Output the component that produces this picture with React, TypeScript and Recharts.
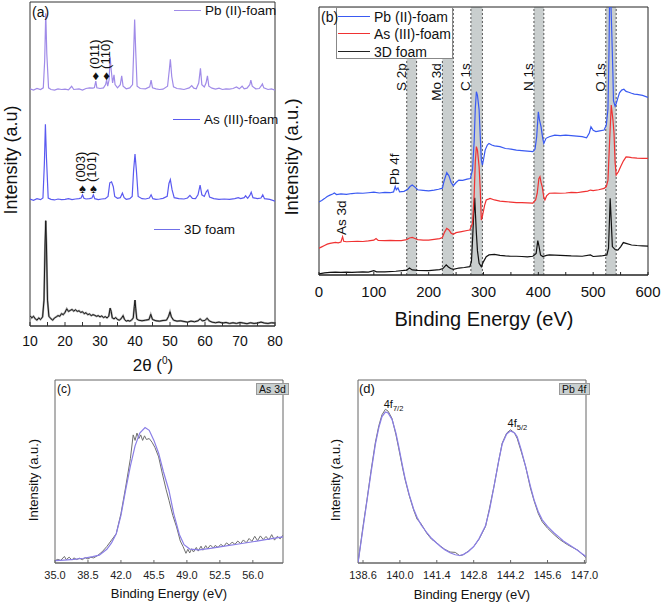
import { LineChart, Line, XAxis, YAxis, ReferenceArea, ReferenceLine, ReferenceDot } from 'recharts'

const FONT = '"Liberation Sans", Arial, sans-serif'

// (a) XRD patterns, stacked (arbitrary units)
const xrdPbFoam = [
  [10, 73.2], [11, 72.8], [12, 73.3], [13, 73.0], [13.8, 73.5], [14.2, 82], [14.5, 96.5], [14.8, 84], [15.3, 73.5],
  [16, 73], [17, 72.8], [18, 73.2], [19, 73], [20, 73.1], [21, 72.9], [21.9, 74], [22.5, 73], [24, 73.2], [25, 72.8],
  [26, 73.3], [27, 73.5], [28, 73.4], [28.4, 73.6], [28.8, 75.6], [29.1, 73.5], [30, 73.3], [31, 73.5], [31.6, 74.5],
  [31.9, 76], [32.2, 74], [32.6, 76], [32.9, 83.1], [33.2, 79], [33.6, 75], [34, 77.5], [34.3, 74.5], [35, 73.5],
  [35.8, 74.5], [36.2, 77.2], [36.6, 74], [37.5, 73.2], [38.5, 73.5], [39.3, 74.5], [39.6, 84], [39.9, 94.6], [40.2, 85],
  [40.6, 74], [41.5, 73.3], [43, 73.2], [44.2, 73.8], [44.6, 75.9], [45, 73.5], [46, 73.2], [47, 73], [48, 73.1],
  [49.3, 74], [49.8, 79], [50.1, 82.3], [50.5, 77], [51, 73.8], [52, 73.3], [53, 73.2], [54, 73], [55.5, 73.5],
  [56.2, 74.2], [56.8, 73.4], [57.5, 73.2], [58.2, 75], [58.7, 79.5], [59.1, 74.5], [59.8, 73.8], [60.3, 75], [60.7, 77.2],
  [61.1, 74], [62, 73.4], [63, 73.1], [64, 73.4], [65, 73], [66, 73.2], [67, 73.1], [68, 73.3], [69, 73.8], [69.8, 73.2],
  [70.6, 74], [71.2, 73.2], [72, 73.4], [72.8, 74.5], [73.1, 75.9], [73.5, 74], [74.5, 73.2], [75.5, 73.3], [76, 74],
  [76.4, 74.7], [76.8, 73.5], [78, 73], [79, 73.2], [80, 72.8],
]
const xrdAsFoam = [
  [10, 39.2], [11, 38.8], [12, 39.3], [13, 39.0], [13.7, 39.5], [14.1, 50], [14.4, 62.3], [14.7, 52], [15.2, 39.5],
  [16, 39.1], [17, 38.9], [18, 39.2], [19, 39], [20, 39.1], [21, 39.3], [22, 39], [23, 39.2], [24, 39.3], [24.6, 39.5],
  [25, 40.5], [25.4, 39.4], [26, 39.2], [27, 39.3], [27.7, 39.5], [28.1, 40.5], [28.5, 39.3], [29.5, 39], [30.5, 39.2],
  [31.5, 39.3], [32.3, 40], [32.8, 44.2], [33.3, 44.5], [33.8, 43], [34.2, 40], [35, 39.4], [35.8, 39.6], [36.4, 41],
  [36.9, 39.6], [37.5, 39.1], [38.5, 39.3], [39.2, 40], [39.6, 48], [40, 53.1], [40.4, 48], [40.9, 40], [42, 39.3],
  [43, 39.2], [44.1, 39.5], [44.6, 40.5], [45.1, 39.3], [46, 39.1], [47, 39.2], [48, 39.4], [49.2, 40], [49.7, 44],
  [50.1, 45.2], [50.6, 42], [51.2, 39.6], [52.5, 39.3], [54, 39.2], [55, 39.5], [55.7, 40.3], [56.4, 39.4], [57.3, 39.3],
  [58, 40.5], [58.6, 43.5], [59.1, 40.5], [59.8, 40], [60.4, 41.5], [60.8, 42], [61.3, 39.8], [62.5, 39.3], [64, 39.1],
  [65.5, 39.2], [67, 39.1], [68.5, 39.3], [69.5, 39.6], [70.2, 39.3], [71.2, 39.6], [71.6, 40.2], [72.2, 39.4],
  [72.8, 40.3], [73.2, 41.3], [73.7, 39.6], [75, 39.3], [76, 39.5], [76.5, 40.5], [77, 39.3], [78.5, 39.1], [80, 38.5],
]
const xrd3dFoam = [
  [10, 3.2], [10.5, 2.5], [11, 3], [11.5, 2.2], [12, 1.8], [12.5, 2.5], [13, 2], [13.6, 2.8], [14, 8], [14.3, 25],
  [14.5, 32.5], [14.7, 25], [15, 8], [15.4, 3], [16, 2.2], [16.5, 1.8], [17, 2.5], [17.5, 2.8], [18, 3.2], [18.5, 3],
  [19, 3.8], [19.5, 3.5], [20, 4.2], [20.5, 5.3], [21, 4.5], [21.5, 4.8], [22, 5.1], [22.5, 4.6], [23, 5], [23.5, 4.5],
  [24, 4.7], [24.5, 4.2], [25, 4.4], [25.5, 3.8], [26, 4.1], [26.5, 3.5], [27, 3.7], [27.5, 3.2], [28, 3.5], [28.5, 3.3],
  [29, 3], [29.5, 3.2], [30, 2.8], [30.5, 3.1], [31, 2.6], [31.5, 2.9], [32, 2.5], [32.5, 3], [32.9, 5.5], [33.2, 4.5],
  [33.5, 2.5], [34, 2.2], [34.5, 2.6], [35, 2], [35.5, 1.8], [36, 2.2], [36.6, 3.2], [37, 2], [37.5, 1.5], [38, 1.7],
  [38.5, 1.5], [39, 1.8], [39.5, 2.5], [39.8, 6], [40, 8], [40.2, 5.5], [40.5, 2.2], [41, 1.8], [42, 1.6], [43, 1.8],
  [44, 2], [44.5, 3.6], [45, 2], [46, 1.6], [47, 1.5], [48, 1.7], [49, 1.8], [49.6, 3], [50, 4.4], [50.4, 2.8], [51, 1.8],
  [52, 1.5], [53, 1.6], [54, 1.4], [55, 1.2], [56, 1.5], [57, 1.3], [58, 1.6], [58.6, 2.2], [59.2, 1.6], [60, 1.7],
  [60.6, 2.4], [61.2, 1.6], [62, 1.2], [63, 1], [64, 1.2], [65, 0.9], [66, 1.1], [67, 0.8], [68, 1], [69, 0.8], [70, 1.1],
  [71, 0.9], [72, 0.7], [73, 1], [74, 0.8], [75, 0.9], [76, 1.2], [77, 0.9], [78, 0.8], [79, 1], [80, 0.9],
]
const xrdTicks = [10, 15, 20, 25, 30, 35, 40, 45, 50, 55, 60, 65, 70, 75, 80]
const xrdPbMarks = [
  { label: '(011)', theta: 28.8, level: 77.2 },
  { label: '(110)', theta: 31.9, level: 77.2 },
]
const xrdAsMarks = [
  { label: '(003)', theta: 25, level: 42.3 },
  { label: '(101)', theta: 28.1, level: 42.3 },
]

// (b) XPS survey spectra, stacked (arbitrary units)
const surveyPb = [
  [0, 27.3], [5, 27.8], [10, 28.5], [15, 29.3], [20, 29.8], [25, 30.2], [28, 30.6], [32, 30.0], [40, 30.3], [50, 30.1],
  [60, 30.4], [70, 30.6], [80, 30.5], [90, 30.7], [100, 30.9], [110, 30.6], [120, 30.8], [130, 30.7], [136, 31], [139, 33],
  [141, 31.8], [144, 32.5], [147, 31], [155, 31.2], [162, 32], [166, 33], [170, 33.6], [175, 32.8], [180, 31.8], [190, 31.6],
  [200, 31.4], [210, 31.7], [218, 32], [225, 32.4], [228, 35], [233, 38.2], [237, 37], [241, 34.5], [245, 33.3], [250, 34.5],
  [255, 35.4], [262, 35.3], [270, 35.8], [276, 36], [280, 39.2], [283, 50], [285, 62], [287, 68.4], [289, 67], [292, 61.6],
  [294, 52], [296, 43], [298, 41], [300, 43], [303, 46.6], [307, 48.5], [310, 49.1], [315, 48.5], [320, 48.2], [330, 47.9],
  [340, 47.2], [350, 47], [360, 46.6], [370, 46.4], [380, 46.2], [390, 46], [394, 47], [397, 51.6], [400, 60.9], [402, 58],
  [405, 55.3], [408, 51], [410, 49.1], [414, 51], [420, 51.6], [430, 52.2], [440, 52], [450, 52.2], [460, 52], [470, 51.8],
  [480, 51.6], [488, 51.2], [493, 53], [496, 55.3], [500, 54], [505, 53.5], [512, 53.8], [520, 54.1], [524, 56], [527, 62],
  [529, 85], [530, 104], [532, 104], [534, 90], [536, 75], [537, 65], [540, 63], [542, 64], [545, 66], [548, 68], [552, 69],
  [556, 69.3], [560, 68.5], [565, 68.2], [570, 67.8], [575, 67.5], [580, 67.4], [590, 67], [600, 66.3],
]
const surveyAs = [
  [0, 10], [5, 10.5], [10, 11], [15, 11.5], [20, 11.8], [25, 12], [30, 12.2], [35, 12], [40, 12.3], [43, 14.3], [45, 12.6],
  [50, 12.4], [60, 12.5], [70, 12.6], [80, 12.5], [90, 12.7], [100, 13], [104, 13.6], [108, 12.9], [120, 12.8], [130, 12.9],
  [140, 12.8], [150, 12.8], [160, 13.2], [165, 13.8], [170, 14], [175, 13.6], [180, 13.2], [190, 13], [200, 13], [210, 13.3],
  [220, 13.6], [225, 14], [229, 16], [233, 17.4], [237, 16.8], [241, 15.6], [245, 15.2], [250, 15.8], [260, 16.2], [270, 16.6],
  [275, 16.8], [280, 19.3], [283, 30], [285, 42], [287, 47.9], [289, 46.5], [292, 40.4], [294, 32], [296, 20.5], [298, 22],
  [302, 26], [305, 28], [310, 28.4], [312, 28.6], [320, 28], [330, 27.6], [340, 27.4], [350, 27.2], [360, 27], [370, 27],
  [380, 26.9], [390, 26.8], [395, 28], [398, 30.5], [401, 36], [403, 36.7], [405, 34.5], [407, 33], [410, 29], [412, 28],
  [415, 29.5], [420, 30.5], [430, 30.6], [440, 30.5], [450, 30.6], [460, 30.8], [470, 30.7], [480, 31], [490, 31.3],
  [495, 31.7], [500, 31.5], [510, 31.8], [520, 32.3], [524, 33], [527, 35.4], [530, 50], [533, 63.4], [536, 58], [538, 53],
  [540, 42], [542, 37.3], [546, 38.5], [550, 40.4], [555, 42.5], [560, 44.1], [565, 44], [570, 43.8], [580, 43.6],
  [590, 43.5], [600, 43.5],
]
const survey3d = [
  [0, 0.4], [10, 0.8], [20, 1], [30, 1.1], [40, 1], [50, 1.1], [60, 1], [70, 1.1], [80, 1.2], [90, 1.1], [100, 1.6],
  [105, 1.2], [120, 1.2], [140, 1.4], [160, 1.8], [165, 2.6], [170, 1.9], [180, 1.7], [200, 1.6], [210, 1.8], [220, 2],
  [226, 2.4], [232, 3.8], [236, 3], [240, 2.4], [245, 2.1], [255, 2.6], [265, 2.8], [275, 3.1], [278, 5], [280, 13],
  [282, 22], [284, 28.8], [285.5, 22], [287, 15.6], [289, 9], [292, 4.4], [296, 3.1], [300, 5], [305, 6.8], [310, 7.5],
  [320, 7.7], [330, 7.3], [340, 7.1], [350, 7], [360, 7], [370, 6.9], [380, 6.8], [390, 7], [396, 8], [399, 12.8],
  [401, 11], [404, 7.5], [408, 6.9], [415, 7.3], [420, 7.5], [440, 7.3], [460, 7.1], [480, 7], [495, 7.5], [500, 6.9],
  [515, 7.1], [525, 7.5], [528, 10], [530, 22], [531, 28.6], [533, 20], [535, 10.6], [540, 9.5], [545, 9.3], [550, 10.5],
  [555, 12.1], [560, 11.8], [570, 11.2], [580, 11], [590, 10.9], [600, 10.8],
]
const surveyTicks = [0, 50, 100, 150, 200, 250, 300, 350, 400, 450, 500, 550, 600]
const surveyRegions = [
  { label: 'S 2p', from: 160, to: 178 },
  { label: 'Mo 3d', from: 225, to: 245 },
  { label: 'C 1s', from: 277, to: 298 },
  { label: 'N 1s', from: 392, to: 410 },
  { label: 'O 1s', from: 523, to: 542 },
]
const surveyPeakLabels = [
  { label: 'Pb 4f', at: 140, level: 33.6 },
  { label: 'As 3d', at: 43, level: 14.9 },
]

// (c) As 3d high resolution
const as3dData = [
  [35, 1.3], [35.3, 2], [35.6, 1.4], [36, 3.6], [36.2, 1.8], [36.5, 3.2], [36.8, 1.6], [37, 2.8], [37.3, 1.9], [37.6, 2.6],
  [37.9, 1.8], [38.2, 2.9], [38.5, 2.2], [38.8, 3.1], [39.1, 2.8], [39.5, 4], [40, 6.1], [40.5, 9], [41, 12.5], [41.5, 16],
  [42, 27], [42.5, 41.5], [43, 57], [43.3, 70], [43.5, 67], [43.7, 71], [43.9, 68], [44.1, 70], [44.3, 67], [44.5, 69.5],
  [44.7, 67.5], [45, 68], [45.3, 66], [45.6, 63.2], [46, 58], [46.4, 48.7], [46.8, 40], [47.1, 34.2], [47.5, 26],
  [47.9, 19.7], [48.3, 12], [48.6, 8.9], [48.9, 5.3], [49.1, 7.5], [49.3, 5.5], [49.5, 7.8], [49.7, 6], [50, 8.5],
  [50.2, 6.5], [50.5, 9.2], [50.7, 7], [51, 9.5], [51.2, 7.8], [51.5, 9.8], [51.8, 8.2], [52, 9.6], [52.3, 8.5],
  [52.6, 10.2], [52.9, 9], [53.2, 11], [53.5, 9.8], [53.8, 11.4], [54.1, 10.2], [54.4, 12], [54.7, 10.6], [55, 12.6],
  [55.3, 11], [55.6, 13.4], [55.9, 11.8], [56.2, 14.6], [56.5, 12.2], [56.8, 14.8], [57.1, 12.8], [57.4, 14.5],
  [57.7, 12.6], [58, 15.5], [58.3, 12.5], [58.6, 14.6], [58.9, 13.2], [59.2, 15.2],
]
const as3dFit = [
  [35, 1.3], [36, 1.6], [37, 2], [38, 2.6], [39, 3.5], [39.7, 4.3], [40.5, 7.5], [41, 11], [41.5, 16], [42, 26],
  [42.5, 40], [43, 53], [43.5, 64], [44, 71], [44.56, 74], [45, 72.5], [45.5, 67], [46, 60], [46.5, 50], [47.1, 39.5],
  [47.6, 27], [48.2, 15.6], [48.7, 10], [49.3, 7.6], [50.3, 7.2], [51.5, 8], [53, 9.2], [54.5, 10.4], [56, 11.6],
  [57.5, 12.9], [59.2, 14.3],
]
const as3dTicks = [35, 38.5, 42, 45.5, 49, 52.5, 56]

// (d) Pb 4f high resolution
const pb4fData = [
  [138.41, 0], [138.6, 20], [138.75, 34.5], [138.9, 50], [139.07, 66], [139.2, 75], [139.32, 81], [139.45, 84],
  [139.55, 83], [139.7, 79], [139.85, 70], [139.95, 63], [140.1, 52], [140.2, 45.4], [140.35, 37], [140.52, 29],
  [140.65, 24], [140.8, 21.5], [141.03, 16], [141.2, 13], [141.4, 11], [141.54, 9.2], [141.7, 7.5], [141.9, 6],
  [142.1, 5.8], [142.27, 4], [142.4, 4.5], [142.6, 6.5], [142.8, 9], [143, 13], [143.25, 20], [143.4, 30], [143.57, 42],
  [143.75, 56], [143.88, 65.5], [144.05, 71], [144.2, 72.8], [144.35, 71], [144.45, 68], [144.6, 61], [144.77, 52.7],
  [144.95, 41], [145.09, 34], [145.25, 27], [145.4, 22.5], [145.6, 19], [145.85, 15.5], [146.05, 13], [146.2, 11.5],
  [146.36, 10], [146.55, 8.5], [146.75, 7], [146.9, 5], [147.06, 3],
]
const pb4fFit = [
  [138.41, 0], [138.6, 19], [138.75, 34], [138.9, 49], [139.07, 65], [139.2, 74], [139.32, 80], [139.45, 82.5],
  [139.55, 82], [139.7, 78.5], [139.85, 71], [139.95, 64], [140.1, 53], [140.2, 46], [140.35, 37.5], [140.52, 29.5],
  [140.65, 25], [140.8, 21], [141.03, 16.4], [141.2, 13.5], [141.4, 10.8], [141.54, 9], [141.7, 7.3], [141.9, 5.6],
  [142.1, 4.5], [142.27, 4.1], [142.4, 4.6], [142.6, 6.3], [142.8, 9], [143, 13.2], [143.25, 20.5], [143.4, 29],
  [143.57, 41.8], [143.75, 56], [143.88, 65], [144.05, 70.5], [144.2, 72.2], [144.35, 71], [144.45, 69], [144.6, 62],
  [144.77, 52.7], [144.95, 42], [145.09, 34.5], [145.25, 28], [145.4, 23.6], [145.6, 20], [145.85, 16.4], [146.05, 14],
  [146.2, 12], [146.36, 10.5], [146.55, 8.8], [146.75, 6.8], [146.9, 5.2], [147.06, 3.6],
]
const pb4fTicks = [138.6, 140.0, 141.4, 142.8, 144.2, 145.6, 147.0]
const pb4fPeaks = [
  { main: '4f', sub: '7/2', at: 139.5, level: 83 },
  { main: '4f', sub: '5/2', at: 144.2, level: 72.5 },
]

const pts = (rows: number[][]) => rows.map(([x, y]) => ({ x, y }))

const Txt = ({ x, y, size, children, anchor = 'center' }: any) => (
  <div
    style={{
      position: 'absolute',
      left: x,
      top: y,
      fontSize: size,
      lineHeight: 1,
      whiteSpace: 'nowrap',
      transform: anchor === 'center' ? 'translate(-50%, -50%)' : 'translate(0, -50%)',
    }}
  >
    {children}
  </div>
)

const VTxt = ({ x, y, size, children }: any) => (
  <div
    style={{
      position: 'absolute',
      left: x,
      top: y,
      fontSize: size,
      lineHeight: 1,
      whiteSpace: 'nowrap',
      transform: 'translate(-50%, -50%) rotate(-90deg)',
    }}
  >
    {children}
  </div>
)

const LegendRow = ({ x, y, len, color, label, size }: any) => (
  <>
    <div style={{ position: 'absolute', left: x, top: y, width: len, borderTop: `1.5px solid ${color}` }} />
    <Txt x={x + len + 4} y={y + 1} size={size} anchor="start">{label}</Txt>
  </>
)

// rotated label that sits above a point, plus an optional symbol at the point
const markShape = (text: string, symbol: string, size: number) => (p: any) => (
  <g>
    {symbol && (
      <text x={p.cx} y={p.cy} textAnchor="middle" dominantBaseline="central" fontSize={13} fill="#111">
        {symbol}
      </text>
    )}
    <text
      x={p.cx + 3}
      y={p.cy - (symbol ? 7 : 0)}
      transform={`rotate(-90 ${p.cx + 3} ${p.cy - (symbol ? 7 : 0)})`}
      fontSize={size}
      fontFamily={FONT}
      fill="#111"
    >
      {text}
    </text>
  </g>
)

const regionLabel = (text: string) => (p: any) => (
  <text
    x={p.cx - 1}
    y={p.cy}
    transform={`rotate(-90 ${p.cx - 1} ${p.cy})`}
    textAnchor="end"
    fontSize={13.5}
    fontFamily={FONT}
    fill="#111"
  >
    {text}
  </text>
)

const peakShape = (main: string, sub: string) => (p: any) => (
  <text x={p.cx - 3} y={p.cy - 3} fontSize={11} fontFamily={FONT} fill="#111">
    {main}
    <tspan fontSize={7.5} dy={3}>{sub}</tspan>
  </text>
)

const XrdPanel = () => (
  <LineChart width={300} height={360} margin={{ top: 2, right: 25, bottom: 0, left: 30 }}>
    <XAxis
      type="number"
      dataKey="x"
      domain={[10, 80]}
      ticks={xrdTicks}
      tickFormatter={(v: number) => (v % 10 === 0 ? String(v) : '')}
      allowDataOverflow
      height={34}
      tickSize={-4}
      tickMargin={14}
      stroke="#333"
      tick={{ fill: '#111', fontSize: 14, fontFamily: FONT }}
    />
    <YAxis hide type="number" domain={[0, 100]} allowDataOverflow />
    <ReferenceArea x1={10} x2={80} y1={0} y2={100} fill="none" stroke="#333" strokeWidth={1} />
    <Line data={pts(xrd3dFoam)} dataKey="y" stroke="#a0a0a0" strokeWidth={2} dot={false} isAnimationActive={false} />
    <Line data={pts(xrd3dFoam)} dataKey="y" stroke="#1a1a1a" strokeWidth={1} dot={false} isAnimationActive={false} />
    <Line data={pts(xrdAsFoam)} dataKey="y" stroke="#5a5af0" strokeWidth={1.2} dot={false} isAnimationActive={false} />
    <Line data={pts(xrdPbFoam)} dataKey="y" stroke="#a08be8" strokeWidth={1.2} dot={false} isAnimationActive={false} />
    {xrdPbMarks.map((m) => (
      <ReferenceDot key={m.label} x={m.theta} y={m.level} r={0} shape={markShape(m.label, '\u2666', 13)} />
    ))}
    {xrdAsMarks.map((m) => (
      <ReferenceDot key={m.label} x={m.theta} y={m.level} r={0} shape={markShape(m.label, '\u2660', 13)} />
    ))}
  </LineChart>
)

const SurveyPanel = () => (
  <LineChart width={362} height={330} margin={{ top: 7, right: 14, bottom: 0, left: 19 }}>
    <XAxis
      type="number"
      dataKey="x"
      domain={[0, 600]}
      ticks={surveyTicks}
      tickFormatter={(v: number) => (v % 100 === 0 ? String(v) : '')}
      allowDataOverflow
      height={55}
      tickSize={-3}
      tickMargin={14}
      stroke="#222"
      tick={{ fill: '#111', fontSize: 15, fontFamily: FONT }}
    />
    <YAxis hide type="number" domain={[0, 100]} allowDataOverflow />
    {surveyRegions.map((r) => (
      <ReferenceArea key={r.label} x1={r.from} x2={r.to} y1={0} y2={100} fill="#c9cece" fillOpacity={1} stroke="none" />
    ))}
    {surveyRegions.map((r) => (
      <ReferenceLine key={r.label + 'a'} x={r.from} stroke="#555" strokeDasharray="2 2" />
    ))}
    {surveyRegions.map((r) => (
      <ReferenceLine key={r.label + 'b'} x={r.to} stroke="#555" strokeDasharray="2 2" />
    ))}
    <ReferenceArea x1={0} x2={600} y1={0} y2={100} fill="none" stroke="#222" strokeWidth={1} />
    <Line data={pts(survey3d)} dataKey="y" stroke="#111" strokeWidth={1.2} dot={false} isAnimationActive={false} />
    <Line data={pts(surveyAs)} dataKey="y" stroke="#f03232" strokeWidth={1.2} dot={false} isAnimationActive={false} />
    <Line data={pts(surveyPb)} dataKey="y" stroke="#3a5af2" strokeWidth={1.2} dot={false} isAnimationActive={false} />
    {surveyRegions.map((r) => (
      <ReferenceDot key={r.label + 't'} x={r.from} y={79} r={0} shape={regionLabel(r.label)} />
    ))}
    {surveyPeakLabels.map((m) => (
      <ReferenceDot key={m.label} x={m.at} y={m.level} r={0} shape={markShape(m.label, '', 13.5)} />
    ))}
  </LineChart>
)

const HiResPanel = ({ data, fit, domain, ticks, left, right, children }: any) => (
  <LineChart width={280} height={232} margin={{ top: 10, right, bottom: 0, left }}>
    <XAxis
      type="number"
      dataKey="x"
      domain={domain}
      ticks={ticks}
      tickFormatter={(v: number) => v.toFixed(1)}
      allowDataOverflow
      height={39}
      tickSize={-3}
      tickMargin={11}
      stroke="#666"
      tick={{ fill: '#222', fontSize: 11, fontFamily: FONT }}
    />
    <YAxis hide type="number" domain={[0, 100]} allowDataOverflow />
    <ReferenceArea x1={domain[0]} x2={domain[1]} y1={0} y2={100} fill="none" stroke="#666" strokeWidth={1} />
    <Line data={pts(data)} dataKey="y" stroke="#6f6f6f" strokeWidth={1} dot={false} isAnimationActive={false} />
    <Line data={pts(fit)} dataKey="y" stroke="#8a7ee6" strokeWidth={1.2} dot={false} isAnimationActive={false} />
    {children}
  </LineChart>
)

const tagStyle: any = {
  position: 'absolute',
  background: '#c9d0d0',
  border: '1px solid #999',
  fontSize: 10.5,
  lineHeight: '10px',
  padding: '0 2px',
  whiteSpace: 'nowrap',
}

export default function App() {
  return (
    <div
      style={{
        position: 'absolute',
        left: 0,
        top: 0,
        width: 662,
        height: 602,
        background: '#fff',
        fontFamily: FONT,
        color: '#111',
        overflow: 'hidden',
      }}
    >
      <div style={{ position: 'absolute', left: 0, top: 0 }}>
        <XrdPanel />
      </div>
      <Txt x={32} y={12} size={14} anchor="start">(a)</Txt>
      <LegendRow x={174} y={10} len={27} color="#a08be8" label="Pb (II)-foam" size={13.5} />
      <LegendRow x={173} y={119} len={27} color="#5a5af0" label="As (III)-foam" size={13.5} />
      <LegendRow x={154} y={229} len={26} color="#7070e8" label="3D foam" size={13.5} />
      <VTxt x={11} y={160} size={18}>Intensity (a.u)</VTxt>
      <Txt x={153} y={365} size={17}>
        2θ (<sup style={{ fontSize: 10 }}>0</sup>)
      </Txt>

      <div style={{ position: 'absolute', left: 300, top: 0 }}>
        <SurveyPanel />
      </div>
      <div
        style={{
          position: 'absolute',
          left: 336,
          top: 7,
          width: 117,
          height: 52,
          background: '#fff',
          border: '1px solid #888',
          boxSizing: 'border-box',
        }}
      />
      <Txt x={321} y={17} size={14} anchor="start">(b)</Txt>
      <LegendRow x={338} y={16} len={32} color="#3a5af2" label="Pb (II)-foam" size={14} />
      <LegendRow x={338} y={33} len={32} color="#f03232" label="As (III)-foam" size={14} />
      <LegendRow x={338} y={51} len={32} color="#222" label="3D foam" size={14} />
      <VTxt x={292} y={157} size={18.5}>Intensity (a.u.)</VTxt>
      <Txt x={484} y={319} size={20}>Binding Energy (eV)</Txt>

      <div style={{ position: 'absolute', left: 20, top: 370 }}>
        <HiResPanel data={as3dData} fit={as3dFit} domain={[35, 59.2]} ticks={as3dTicks} left={35} right={17} />
      </div>
      <Txt x={57} y={389} size={12} anchor="start">(c)</Txt>
      <div style={{ ...tagStyle, left: 256, top: 383 }}>As 3d</div>
      <VTxt x={33} y={480} size={13}>Intensity (a.u.)</VTxt>
      <Txt x={169} y={593} size={13}>Binding Energy (eV)</Txt>

      <div style={{ position: 'absolute', left: 320, top: 370 }}>
        <HiResPanel data={pb4fData} fit={pb4fFit} domain={[138.41, 147.06]} ticks={pb4fTicks} left={38} right={14}>
          {pb4fPeaks.map((m) => (
            <ReferenceDot key={m.sub} x={m.at} y={m.level} r={0} shape={peakShape(m.main, m.sub)} />
          ))}
        </HiResPanel>
      </div>
      <Txt x={359} y={388} size={13} anchor="start">(d)</Txt>
      <div style={{ ...tagStyle, left: 559, top: 383 }}>Pb 4f</div>
      <VTxt x={335} y={480} size={13}>Intensity (a.u.)</VTxt>
      <Txt x={472} y={594} size={13}>Binding Energy (eV)</Txt>
    </div>
  )
}
